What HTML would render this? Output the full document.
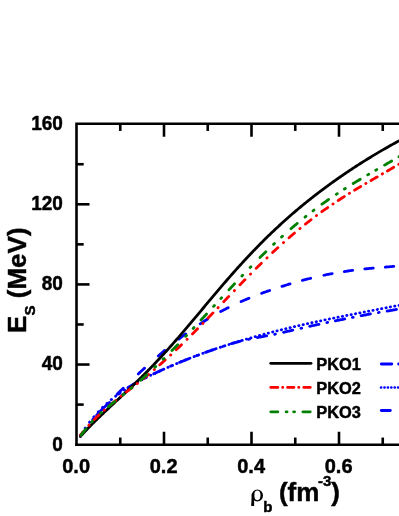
<!DOCTYPE html>
<html><head><meta charset="utf-8"><title>chart</title>
<style>html,body{margin:0;padding:0;background:#fff;width:399px;height:516px;overflow:hidden;font-family:"Liberation Sans",sans-serif}</style>
</head><body>
<svg width="411" height="528" viewBox="0 0 411 528" style="position:absolute;left:0;top:0;filter:blur(0.4px)">
<rect width="411" height="528" fill="#fff"/>
<g fill="none" stroke-width="2.8" stroke-linecap="round" stroke-linejoin="round">
<path d="M92.75,419.59 L93.26,418.97 M118.68,393.94 L119.32,393.47 M144.64,378.29 L145.36,377.93 M170.63,366.16 L171.37,365.85 M196.63,355.67 L197.37,355.39 M222.62,346.52 L223.38,346.27 M248.61,339.42 L249.39,339.25 M274.61,334.27 L275.39,334.10 M300.91,328.27 L301.69,328.09 M326.91,322.62 L327.69,322.45 M352.41,317.45 L353.19,317.30 M378.41,312.57 L379.19,312.44 M404.41,307.96 L405.19,307.82 M80.50,435.53 L81.09,434.79 L81.70,434.06 L82.32,433.33 L82.93,432.61 L83.54,431.88 M102.55,408.91 L103.23,408.25 L103.92,407.60 L104.61,406.94 L105.30,406.29 L106.00,405.65 L106.70,405.01 L107.41,404.38 L108.12,403.75 L108.82,403.10 L109.49,402.43 M127.94,387.70 L128.75,387.20 L129.56,386.70 L130.37,386.21 L131.18,385.72 L132.00,385.23 L132.82,384.75 L133.64,384.27 L134.46,383.80 L135.29,383.33 L136.12,382.86 M153.70,373.82 L154.56,373.41 L155.42,373.01 L156.28,372.61 L157.14,372.20 L158.00,371.80 L158.86,371.41 L159.73,371.01 L160.59,370.61 L161.45,370.22 L162.32,369.83 M179.60,362.38 L180.48,362.02 L181.36,361.66 L182.24,361.30 L183.12,360.95 L184.00,360.59 L184.88,360.24 L185.76,359.88 L186.65,359.53 L187.53,359.18 L188.41,358.83 M205.52,352.40 L206.42,352.08 L207.31,351.76 L208.21,351.44 L209.10,351.12 L210.00,350.81 L210.90,350.49 L211.79,350.18 L212.69,349.87 L213.59,349.56 L214.49,349.25 M231.44,343.68 L232.35,343.40 L233.26,343.12 L234.17,342.86 L235.08,342.60 L236.00,342.35 L236.92,342.10 L237.84,341.87 L238.76,341.64 L239.68,341.42 L240.61,341.20 M257.34,337.60 L258.27,337.42 L259.20,337.24 L260.14,337.05 L261.07,336.87 L262.00,336.69 L262.93,336.50 L263.87,336.33 L264.80,336.15 L265.73,335.98 L266.67,335.81 M283.52,332.30 L284.45,332.09 L285.37,331.88 L286.30,331.67 L287.22,331.45 L288.15,331.24 L289.08,331.02 L290.00,330.80 L290.92,330.59 L291.85,330.37 L292.77,330.15 M309.66,326.31 L310.59,326.11 L311.52,325.90 L312.44,325.70 L313.37,325.50 L314.30,325.30 L315.23,325.10 L316.16,324.89 L317.09,324.70 L318.01,324.50 L318.94,324.30 M335.39,320.87 L336.33,320.68 L337.26,320.49 L338.19,320.30 L339.12,320.11 L340.05,319.92 L340.98,319.73 L341.91,319.55 L342.84,319.36 L343.78,319.17 L344.71,318.98 M361.14,315.74 L362.07,315.56 L363.00,315.38 L363.94,315.19 L364.87,315.01 L365.80,314.83 L366.73,314.65 L367.67,314.47 L368.60,314.30 L369.53,314.12 L370.47,313.95 M387.12,311.10 L388.06,310.94 L388.99,310.78 L389.93,310.61 L390.86,310.45 L391.80,310.28 L392.73,310.11 L393.67,309.94 L394.60,309.77 L395.54,309.60 L396.47,309.43" stroke="#00f"/>
<path d="M80.78,435.07 L80.94,434.81 M85.14,428.32 L85.30,428.07 M89.49,422.29 L89.67,422.05 M93.84,416.87 L94.04,416.64 M98.20,411.97 L98.40,411.75 M102.55,407.51 L102.77,407.30 M106.91,403.43 L107.13,403.23 M111.26,399.68 L111.50,399.48 M115.62,396.21 L115.86,396.03 M119.98,393.01 L120.22,392.83 M124.33,390.02 L124.59,389.86 M128.69,387.24 L128.95,387.08 M133.05,384.62 L133.31,384.47 M137.41,382.14 L137.67,382.00 M141.77,379.79 L142.03,379.65 M146.13,377.54 L146.39,377.40 M150.49,375.37 L150.75,375.24 M154.84,373.28 L155.12,373.15 M159.20,371.25 L159.48,371.12 M163.56,369.27 L163.84,369.15 M167.92,367.34 L168.20,367.22 M172.28,365.45 L172.56,365.34 M176.64,363.61 L176.92,363.49 M181.00,361.81 L181.28,361.69 M185.36,360.04 L185.64,359.93 M189.72,358.32 L190.00,358.21 M194.08,356.64 L194.36,356.53 M198.44,354.99 L198.72,354.89 M202.80,353.38 L203.08,353.28 M207.16,351.81 L207.44,351.71 M211.52,350.27 L211.80,350.18 M215.88,348.77 L216.16,348.68 M220.24,347.30 L220.52,347.21 M224.60,345.87 L224.88,345.78 M228.96,344.47 L229.24,344.38 M233.32,343.09 L233.60,343.01 M237.68,341.75 L237.96,341.67 M242.04,340.44 L242.32,340.36 M246.40,339.16 L246.68,339.07 M250.76,337.90 L251.04,337.82 M255.12,336.67 L255.40,336.59 M259.48,335.47 L259.76,335.39 M263.84,334.29 L264.12,334.22 M268.19,333.14 L268.49,333.06 M272.55,332.01 L272.85,331.94 M276.91,330.90 L277.21,330.83 M281.27,329.82 L281.57,329.75 M285.63,328.75 L285.93,328.68 M289.99,327.71 L290.29,327.64 M294.35,326.68 L294.65,326.61 M298.71,325.67 L299.01,325.60 M303.07,324.68 L303.37,324.61 M307.43,323.70 L307.73,323.64 M311.79,322.74 L312.09,322.68 M316.15,321.80 L316.45,321.73 M320.51,320.86 L320.81,320.80 M324.87,319.94 L325.17,319.88 M329.23,319.03 L329.53,318.97 M333.59,318.13 L333.89,318.07 M337.95,317.24 L338.25,317.19 M342.31,316.36 L342.61,316.31 M346.67,315.49 L346.97,315.43 M351.03,314.63 L351.33,314.57 M355.39,313.77 L355.69,313.71 M359.75,312.91 L360.05,312.85 M364.11,312.06 L364.41,312.00 M368.47,311.21 L368.77,311.15 M372.83,310.36 L373.13,310.31 M377.19,309.52 L377.49,309.46 M381.55,308.67 L381.85,308.62 M385.91,307.83 L386.21,307.77 M390.27,306.98 L390.57,306.92 M394.63,306.13 L394.93,306.07 M398.99,305.27 L399.29,305.22 M403.35,304.41 L403.65,304.36" stroke="#00f"/>
<path d="M80.50,436.27 L80.94,435.54 L81.39,434.82 L81.84,434.10 L82.30,433.38 L82.76,432.67 M96.71,415.10 L97.34,414.40 L97.99,413.71 L98.63,413.02 L99.28,412.33 L99.92,411.64 L100.57,410.96 L101.23,410.27 L101.88,409.59 L102.53,408.91 M117.17,394.17 L117.84,393.51 L118.51,392.85 L119.19,392.18 L119.86,391.52 L120.54,390.86 L121.21,390.20 L121.89,389.54 L122.57,388.88 L123.24,388.23 M138.28,373.91 L138.97,373.26 L139.67,372.62 L140.36,371.98 L141.05,371.34 L141.75,370.70 L142.44,370.06 L143.14,369.42 L143.84,368.78 L144.53,368.15 M158.27,355.95 L158.99,355.33 L159.70,354.72 L160.42,354.10 L161.14,353.49 L161.86,352.88 L162.58,352.27 L163.30,351.66 L164.03,351.05 L164.75,350.45 M178.92,339.05 L179.67,338.48 L180.42,337.90 L181.17,337.33 L181.92,336.76 L182.68,336.19 L183.43,335.62 L184.19,335.06 L184.95,334.50 L185.71,333.94 M200.18,323.85 L200.97,323.33 L201.76,322.82 L202.56,322.31 L203.35,321.80 L204.15,321.29 L204.95,320.78 L205.75,320.28 L206.55,319.78 L207.35,319.29 M220.65,311.59 L221.48,311.14 L222.31,310.70 L223.15,310.25 L223.98,309.81 L224.82,309.38 L225.66,308.94 L226.50,308.51 L227.34,308.08 L228.18,307.66 M241.10,301.58 L241.96,301.20 L242.83,300.82 L243.70,300.45 L244.57,300.08 L245.43,299.71 L246.31,299.34 L247.18,298.98 L248.05,298.61 L248.92,298.26 M261.60,293.34 L262.49,293.01 L263.38,292.69 L264.27,292.37 L265.16,292.05 L266.04,291.73 L266.94,291.41 L267.83,291.10 L268.72,290.79 L269.61,290.48 M281.94,286.40 L282.84,286.11 L283.74,285.83 L284.65,285.55 L285.55,285.27 L286.45,285.00 L287.35,284.72 L288.26,284.45 L289.16,284.17 L290.07,283.90 M302.39,280.41 L303.30,280.16 L304.22,279.92 L305.13,279.68 L306.04,279.44 L306.96,279.20 L307.87,278.97 L308.79,278.74 L309.70,278.51 L310.62,278.28 M323.84,275.25 L324.76,275.05 L325.69,274.86 L326.61,274.67 L327.54,274.49 L328.46,274.30 L329.39,274.12 L330.32,273.94 L331.25,273.76 L332.17,273.59 M344.30,271.54 L345.23,271.40 L346.16,271.26 L347.10,271.12 L348.03,270.99 L348.97,270.86 L349.90,270.73 L350.84,270.60 L351.77,270.48 L352.71,270.35 M364.77,268.94 L365.71,268.84 L366.65,268.75 L367.59,268.65 L368.53,268.56 L369.47,268.47 L370.41,268.38 L371.35,268.29 L372.29,268.20 L373.23,268.11 M385.26,267.08 L386.21,267.01 L387.15,266.93 L388.09,266.85 L389.03,266.78 L389.97,266.70 L390.91,266.62 L391.85,266.55 L392.79,266.47 L393.74,266.39 M405.77,265.34 L406.71,265.25 L407.65,265.15 L408.59,265.06 L409.53,264.96 L410.47,264.86 L411.41,264.76 L412.35,264.66 L413.29,264.55 L414.22,264.45" stroke="#00f"/>
<path d="M80.50,436.36 L81.35,435.41 L82.19,434.48 L83.04,433.56 L83.89,432.64 L84.73,431.73 L85.58,430.82 L86.43,429.93 L87.27,429.04 L88.12,428.16 L88.97,427.28 L89.81,426.41 L90.66,425.55 L91.51,424.69 L92.35,423.84 L93.20,422.99 L94.05,422.15 L94.90,421.31 L95.74,420.48 L96.59,419.65 L97.44,418.82 L98.28,418.00 L99.13,417.18 L99.98,416.37 L100.82,415.56 L101.67,414.75 L102.52,413.94 L103.36,413.14 L104.21,412.34 L105.06,411.54 L105.90,410.75 L106.75,409.95 L107.60,409.16 L108.44,408.37 L109.29,407.58 L110.14,406.79 L110.98,406.00 L111.83,405.21 L112.68,404.43 L113.52,403.64 L114.37,402.86 L115.22,402.07 L116.06,401.29 L116.91,400.50 L117.76,399.72 L118.61,398.93 L119.45,398.15 L120.30,397.36 L121.15,396.57 L121.99,395.78 L122.84,394.99 L123.69,394.20 L124.53,393.41 L125.38,392.62 L126.23,391.82 L127.07,391.03 L127.92,390.23 L128.77,389.43 L129.61,388.63 L130.46,387.82 L131.31,387.02 L132.15,386.21 L133.00,385.40 L133.85,384.59 L134.69,383.77 L135.54,382.95 L136.39,382.13 L137.23,381.31 L138.08,380.49 L138.93,379.66 L139.77,378.83 L140.62,377.99 L141.47,377.16 L142.31,376.32 L143.16,375.47 L144.01,374.63 L144.86,373.78 L145.70,372.93 L146.55,372.07 L147.40,371.21 L148.24,370.35 L149.09,369.48 L149.94,368.61 L150.78,367.74 L151.63,366.87 L152.48,365.99 L153.32,365.11 L154.17,364.22 L155.02,363.33 L155.86,362.44 L156.71,361.54 L157.56,360.64 L158.40,359.74 L159.25,358.83 L160.10,357.92 L160.94,357.01 L161.79,356.09 L162.64,355.17 L163.48,354.25 L164.33,353.32 L165.18,352.39 L166.02,351.46 L166.87,350.52 L167.72,349.58 L168.57,348.63 L169.41,347.69 L170.26,346.74 L171.11,345.79 L171.95,344.83 L172.80,343.87 L173.65,342.91 L174.49,341.94 L175.34,340.98 L176.19,340.01 L177.03,339.04 L177.88,338.06 L178.73,337.08 L179.57,336.10 L180.42,335.12 L181.27,334.13 L182.11,333.15 L182.96,332.16 L183.81,331.17 L184.65,330.17 L185.50,329.18 L186.35,328.18 L187.19,327.18 L188.04,326.18 L188.89,325.18 L189.73,324.18 L190.58,323.18 L191.43,322.17 L192.27,321.16 L193.12,320.15 L193.97,319.14 L194.82,318.13 L195.66,317.12 L196.51,316.11 L197.36,315.10 L198.20,314.09 L199.05,313.07 L199.90,312.06 L200.74,311.05 L201.59,310.03 L202.44,309.02 L203.28,308.00 L204.13,306.99 L204.98,305.97 L205.82,304.96 L206.67,303.95 L207.52,302.94 L208.36,301.92 L209.21,300.91 L210.06,299.90 L210.90,298.89 L211.75,297.89 L212.60,296.88 L213.44,295.87 L214.29,294.87 L215.14,293.86 L215.98,292.86 L216.83,291.86 L217.68,290.86 L218.53,289.87 L219.37,288.87 L220.22,287.88 L221.07,286.89 L221.91,285.90 L222.76,284.91 L223.61,283.93 L224.45,282.94 L225.30,281.96 L226.15,280.98 L226.99,280.01 L227.84,279.03 L228.69,278.06 L229.53,277.10 L230.38,276.13 L231.23,275.17 L232.07,274.21 L232.92,273.25 L233.77,272.29 L234.61,271.34 L235.46,270.39 L236.31,269.44 L237.15,268.50 L238.00,267.56 L238.85,266.62 L239.69,265.69 L240.54,264.76 L241.39,263.83 L242.23,262.90 L243.08,261.98 L243.93,261.06 L244.78,260.14 L245.62,259.23 L246.47,258.32 L247.32,257.41 L248.16,256.51 L249.01,255.61 L249.86,254.71 L250.70,253.82 L251.55,252.93 L252.40,252.04 L253.24,251.15 L254.09,250.27 L254.94,249.40 L255.78,248.52 L256.63,247.65 L257.48,246.78 L258.32,245.92 L259.17,245.06 L260.02,244.20 L260.86,243.34 L261.71,242.49 L262.56,241.64 L263.40,240.80 L264.25,239.96 L265.10,239.12 L265.94,238.28 L266.79,237.45 L267.64,236.62 L268.48,235.80 L269.33,234.98 L270.18,234.16 L271.03,233.35 L271.87,232.53 L272.72,231.73 L273.57,230.92 L274.41,230.12 L275.26,229.32 L276.11,228.53 L276.95,227.74 L277.80,226.95 L278.65,226.16 L279.49,225.38 L280.34,224.60 L281.19,223.83 L282.03,223.06 L282.88,222.29 L283.73,221.52 L284.57,220.76 L285.42,220.00 L286.27,219.25 L287.11,218.49 L287.96,217.74 L288.81,217.00 L289.65,216.25 L290.50,215.51 L291.35,214.78 L292.19,214.04 L293.04,213.31 L293.89,212.59 L294.74,211.86 L295.58,211.14 L296.43,210.42 L297.28,209.71 L298.12,208.99 L298.97,208.29 L299.82,207.58 L300.66,206.88 L301.51,206.18 L302.36,205.48 L303.20,204.78 L304.05,204.09 L304.90,203.40 L305.74,202.72 L306.59,202.03 L307.44,201.35 L308.28,200.67 L309.13,200.00 L309.98,199.32 L310.82,198.65 L311.67,197.99 L312.52,197.32 L313.36,196.66 L314.21,196.00 L315.06,195.34 L315.90,194.69 L316.75,194.04 L317.60,193.39 L318.44,192.74 L319.29,192.10 L320.14,191.46 L320.99,190.82 L321.83,190.18 L322.68,189.54 L323.53,188.91 L324.37,188.28 L325.22,187.66 L326.07,187.03 L326.91,186.41 L327.76,185.79 L328.61,185.17 L329.45,184.55 L330.30,183.94 L331.15,183.33 L331.99,182.72 L332.84,182.11 L333.69,181.51 L334.53,180.91 L335.38,180.31 L336.23,179.71 L337.07,179.11 L337.92,178.52 L338.77,177.93 L339.61,177.34 L340.46,176.75 L341.31,176.17 L342.15,175.58 L343.00,175.00 L343.85,174.42 L344.70,173.85 L345.54,173.27 L346.39,172.70 L347.24,172.13 L348.08,171.56 L348.93,170.99 L349.78,170.43 L350.62,169.86 L351.47,169.30 L352.32,168.74 L353.16,168.19 L354.01,167.63 L354.86,167.08 L355.70,166.53 L356.55,165.98 L357.40,165.43 L358.24,164.89 L359.09,164.35 L359.94,163.80 L360.78,163.26 L361.63,162.73 L362.48,162.19 L363.32,161.66 L364.17,161.13 L365.02,160.60 L365.86,160.07 L366.71,159.54 L367.56,159.02 L368.40,158.50 L369.25,157.97 L370.10,157.46 L370.95,156.94 L371.79,156.42 L372.64,155.91 L373.49,155.40 L374.33,154.89 L375.18,154.38 L376.03,153.88 L376.87,153.37 L377.72,152.87 L378.57,152.37 L379.41,151.87 L380.26,151.37 L381.11,150.88 L381.95,150.39 L382.80,149.89 L383.65,149.40 L384.49,148.92 L385.34,148.43 L386.19,147.95 L387.03,147.46 L387.88,146.98 L388.73,146.51 L389.57,146.03 L390.42,145.55 L391.27,145.08 L392.11,144.61 L392.96,144.14 L393.81,143.67 L394.66,143.21 L395.50,142.74 L396.35,142.28 L397.20,141.82 L398.04,141.36 L398.89,140.91 L399.74,140.45 L400.58,140.00 L401.43,139.55 L402.28,139.10 L403.12,138.65 L403.97,138.21 L404.82,137.76 L405.66,137.32 L406.51,136.88 L407.36,136.44 L408.20,136.01 L409.05,135.57 L409.90,135.14 L410.74,134.71 L411.59,134.29 L412.44,133.86 L413.28,133.44 L414.13,133.01 L414.98,132.59 L415.82,132.18 L416.67,131.76 L417.52,131.35 L418.36,130.93" stroke="#000"/>
<path d="M88.90,425.23 L89.10,425.01 M104.19,410.23 L104.41,410.03 M121.08,396.20 L121.32,396.01 M137.18,383.54 L137.42,383.36 M154.19,369.64 L154.41,369.44 M170.59,355.08 L170.81,354.87 M186.99,339.37 L187.21,339.16 M202.80,323.43 L203.00,323.22 M217.97,307.70 L218.17,307.49 M234.30,290.66 L234.50,290.45 M250.39,274.15 L250.61,273.94 M266.89,257.92 L267.11,257.71 M283.39,242.67 L283.61,242.47 M299.88,228.58 L300.12,228.39 M316.38,215.71 L316.62,215.53 M332.88,204.03 L333.12,203.86 M349.32,193.40 L349.58,193.24 M365.77,183.52 L366.03,183.37 M382.27,173.97 L382.53,173.82 M398.67,164.35 L398.93,164.20 M80.50,435.11 L81.03,434.44 L81.56,433.78 L82.09,433.12 L82.63,432.46 L83.17,431.81 M94.09,419.77 L94.73,419.13 L95.37,418.50 L96.01,417.87 L96.65,417.24 L97.30,416.61 L97.94,415.99 L98.60,415.36 L99.25,414.75 M109.98,405.22 L110.67,404.65 L111.36,404.07 L112.06,403.49 L112.75,402.92 L113.44,402.35 L114.14,401.78 L114.84,401.21 L115.54,400.64 M126.42,392.00 L127.12,391.45 L127.83,390.89 L128.54,390.34 L129.25,389.78 L129.96,389.23 L130.67,388.67 L131.38,388.12 L132.08,387.56 M143.01,378.89 L143.70,378.32 L144.40,377.76 L145.10,377.19 L145.80,376.62 L146.50,376.05 L147.19,375.48 L147.89,374.91 L148.58,374.33 M159.80,364.79 L160.48,364.20 L161.15,363.60 L161.83,363.01 L162.50,362.41 L163.17,361.81 L163.84,361.21 L164.51,360.61 L165.18,360.01 M176.30,349.73 L176.95,349.11 L177.60,348.49 L178.25,347.87 L178.90,347.24 L179.55,346.62 L180.20,346.00 L180.85,345.37 L181.49,344.75 M192.46,333.93 L193.10,333.29 L193.73,332.65 L194.37,332.01 L195.00,331.37 L195.63,330.73 L196.27,330.09 L196.90,329.45 L197.53,328.81 M207.99,318.08 L208.61,317.44 L209.24,316.79 L209.86,316.14 L210.49,315.49 L211.11,314.85 L211.73,314.20 L212.36,313.55 L212.98,312.90 M223.75,301.66 L224.37,301.01 L224.99,300.36 L225.61,299.71 L226.24,299.06 L226.86,298.41 L227.48,297.76 L228.10,297.11 L228.73,296.46 M239.94,284.82 L240.57,284.17 L241.19,283.53 L241.82,282.88 L242.45,282.24 L243.08,281.59 L243.71,280.95 L244.34,280.31 L244.97,279.66 M256.19,268.35 L256.83,267.72 L257.47,267.09 L258.11,266.45 L258.75,265.82 L259.39,265.19 L260.03,264.56 L260.68,263.93 L261.32,263.30 M272.61,252.50 L273.27,251.89 L273.93,251.28 L274.59,250.66 L275.25,250.05 L275.91,249.44 L276.57,248.83 L277.24,248.22 L277.90,247.62 M289.02,237.72 L289.70,237.13 L290.38,236.54 L291.07,235.96 L291.75,235.37 L292.43,234.79 L293.12,234.21 L293.81,233.62 L294.50,233.04 M305.42,224.12 L306.13,223.57 L306.83,223.01 L307.54,222.45 L308.25,221.90 L308.96,221.35 L309.67,220.80 L310.38,220.25 L311.10,219.70 M321.82,211.74 L322.55,211.21 L323.28,210.69 L324.02,210.17 L324.75,209.65 L325.49,209.13 L326.22,208.61 L326.96,208.09 L327.70,207.58 M338.21,200.48 L338.96,199.99 L339.71,199.50 L340.47,199.01 L341.23,198.52 L341.98,198.03 L342.74,197.55 L343.50,197.06 L344.26,196.58 M354.59,190.17 L355.36,189.70 L356.13,189.24 L356.90,188.77 L357.67,188.31 L358.45,187.85 L359.22,187.39 L359.99,186.93 L360.77,186.47 M371.03,180.45 L371.81,180.00 L372.59,179.55 L373.37,179.10 L374.15,178.65 L374.93,178.20 L375.71,177.75 L376.49,177.30 L377.27,176.85 M387.49,170.95 L388.27,170.50 L389.05,170.04 L389.82,169.59 L390.60,169.14 L391.38,168.68 L392.15,168.23 L392.93,167.77 L393.70,167.31" stroke="#f00"/>
<path d="M81.09,435.17 L81.62,434.43 L82.15,433.69 L82.69,432.95 L83.23,432.22 L83.77,431.49 L84.33,430.76 L84.88,430.04 L85.45,429.33 L86.02,428.62 M108.32,406.63 L109.03,406.05 L109.73,405.47 L110.44,404.90 L111.15,404.32 L111.85,403.75 L112.57,403.18 L113.28,402.61 L113.99,402.04 L114.70,401.48 M140.63,380.23 L141.31,379.63 L142.00,379.03 L142.68,378.43 L143.36,377.82 L144.04,377.22 L144.72,376.61 L145.40,376.00 L146.07,375.39 L146.75,374.78 M171.92,350.56 L172.56,349.92 L173.20,349.27 L173.84,348.62 L174.48,347.97 L175.12,347.32 L175.76,346.67 L176.39,346.01 L177.03,345.36 L177.66,344.71 M200.96,320.07 L201.58,319.41 L202.20,318.74 L202.82,318.07 L203.44,317.40 L204.06,316.73 L204.68,316.06 L205.30,315.39 L205.91,314.72 L206.53,314.05 M228.95,289.77 L229.58,289.10 L230.20,288.43 L230.82,287.77 L231.44,287.10 L232.06,286.44 L232.68,285.77 L233.31,285.10 L233.93,284.44 L234.55,283.77 M259.98,257.50 L260.63,256.86 L261.28,256.22 L261.93,255.58 L262.58,254.94 L263.23,254.30 L263.88,253.67 L264.53,253.03 L265.18,252.39 L265.83,251.76 M290.98,228.69 L291.67,228.10 L292.37,227.50 L293.06,226.91 L293.75,226.32 L294.45,225.73 L295.14,225.15 L295.84,224.56 L296.54,223.98 L297.24,223.39 M321.96,204.21 L322.70,203.68 L323.44,203.15 L324.19,202.62 L324.93,202.09 L325.67,201.56 L326.42,201.04 L327.16,200.52 L327.91,199.99 L328.66,199.47 M353.20,183.53 L353.97,183.05 L354.75,182.58 L355.53,182.10 L356.31,181.63 L357.09,181.16 L357.87,180.69 L358.65,180.22 L359.43,179.76 L360.22,179.29 M384.55,165.14 L385.34,164.68 L386.13,164.23 L386.92,163.77 L387.71,163.31 L388.49,162.86 L389.28,162.40 L390.07,161.94 L390.86,161.48 L391.64,161.02 M91.59,422.15 L92.00,421.71 L92.41,421.27 M100.55,413.31 L101.00,412.91 L101.45,412.51 M123.03,394.87 L123.50,394.50 L123.97,394.12 M131.04,388.39 L131.50,388.00 L131.96,387.62 M154.86,367.27 L155.30,366.86 L155.74,366.44 M163.17,359.28 L163.60,358.86 L164.03,358.44 M185.69,336.36 L186.10,335.92 L186.51,335.49 M193.19,328.41 L193.60,327.98 L194.01,327.54 M213.59,306.39 L214.00,305.95 L214.41,305.51 M220.79,298.58 L221.20,298.14 L221.61,297.70 M241.89,276.01 L242.30,275.58 L242.71,275.15 M250.08,267.51 L250.50,267.08 L250.92,266.65 M273.56,244.38 L274.00,243.97 L274.44,243.56 M281.55,237.01 L282.00,236.61 L282.45,236.21 M305.03,217.05 L305.50,216.67 L305.97,216.30 M313.02,210.83 L313.50,210.47 L313.98,210.10 M336.30,194.29 L336.80,193.95 L337.30,193.62 M344.39,189.02 L344.90,188.70 L345.41,188.38 M367.68,174.89 L368.20,174.58 L368.72,174.28 M375.78,170.19 L376.30,169.89 L376.82,169.59 M398.98,156.70 L399.50,156.39 L400.01,156.08" stroke="#008000"/>
</g>
<g stroke="#000" stroke-width="2.6" fill="none" stroke-linecap="butt">
<path d="M76.5,446.05 V123.75 H411"/>
<path d="M75.2,444.75 H411"/>
<path d="M76.5,404.59 h7.2"/>
<path d="M76.5,364.53 h13"/>
<path d="M76.5,324.46999999999997 h7.2"/>
<path d="M76.5,284.40999999999997 h13"/>
<path d="M76.5,244.34999999999997 h7.2"/>
<path d="M76.5,204.28999999999996 h13"/>
<path d="M76.5,164.22999999999996 h7.2"/>
<path d="M120.25,444.75 v-7.2"/>
<path d="M120.25,123.75 v7.2"/>
<path d="M164.0,444.75 v-13"/>
<path d="M164.0,123.75 v13"/>
<path d="M207.75000000000003,444.75 v-7.2"/>
<path d="M207.75000000000003,123.75 v7.2"/>
<path d="M251.5,444.75 v-13"/>
<path d="M251.5,123.75 v13"/>
<path d="M295.25,444.75 v-7.2"/>
<path d="M295.25,123.75 v7.2"/>
<path d="M339.00000000000006,444.75 v-13"/>
<path d="M339.00000000000006,123.75 v13"/>
<path d="M382.75000000000006,444.75 v-7.2"/>
<path d="M382.75000000000006,123.75 v7.2"/>
</g>
<g fill="none" stroke-width="2.8" stroke-linecap="round">
<path d="M270.75,363.3 H311" stroke="#000"/>
<path d="M270.75,387.4 H277.85 M282.6,387.4 h0.2 M287.55,387.4 H293.95 M298.7,387.4 h0.2 M303.75,387.4 H310.25" stroke="#f00"/>
<path d="M270.75,411.8 H277.85 M286.1,411.8 h1.0 M293.6,411.8 h1.0 M302.85,411.8 H310.25" stroke="#008000"/>
<path d="M381.3,364 H391.8 M398.6,364 h0.8" stroke="#00f"/>
<path d="M381,387.6 h0.2 m3.2,0 h0.2 m3.2,0 h0.2 m3.2,0 h0.2 m3.2,0 h0.2 m3.2,0 h0.2 m3.2,0 h0.2" stroke="#00f" stroke-width="2.5"/>
<path d="M381.3,410.5 H390.3" stroke="#00f"/>
</g>
<g style="filter:grayscale(1)">
<text font-family="Liberation Sans, sans-serif" font-weight="bold" fill="#000" stroke="#000" stroke-width="1.8" stroke-linejoin="round" font-size="76px" text-anchor="end" transform="translate(62.90,450.55) scale(0.25,0.27)">0</text>
<text font-family="Liberation Sans, sans-serif" font-weight="bold" fill="#000" stroke="#000" stroke-width="1.8" stroke-linejoin="round" font-size="76px" text-anchor="end" transform="translate(62.90,370.43) scale(0.25,0.27)">40</text>
<text font-family="Liberation Sans, sans-serif" font-weight="bold" fill="#000" stroke="#000" stroke-width="1.8" stroke-linejoin="round" font-size="76px" text-anchor="end" transform="translate(62.90,290.31) scale(0.25,0.27)">80</text>
<text font-family="Liberation Sans, sans-serif" font-weight="bold" fill="#000" stroke="#000" stroke-width="1.8" stroke-linejoin="round" font-size="76px" text-anchor="end" transform="translate(62.90,210.19) scale(0.25,0.27)">120</text>
<text font-family="Liberation Sans, sans-serif" font-weight="bold" fill="#000" stroke="#000" stroke-width="1.8" stroke-linejoin="round" font-size="76px" text-anchor="end" transform="translate(62.90,130.07) scale(0.25,0.27)">160</text>
<text font-family="Liberation Sans, sans-serif" font-weight="bold" fill="#000" stroke="#000" stroke-width="1.8" stroke-linejoin="round" font-size="80px" text-anchor="middle" transform="translate(76.10,473.30) scale(0.25,0.2625)">0.0</text>
<text font-family="Liberation Sans, sans-serif" font-weight="bold" fill="#000" stroke="#000" stroke-width="1.8" stroke-linejoin="round" font-size="80px" text-anchor="middle" transform="translate(163.60,473.30) scale(0.25,0.2625)">0.2</text>
<text font-family="Liberation Sans, sans-serif" font-weight="bold" fill="#000" stroke="#000" stroke-width="1.8" stroke-linejoin="round" font-size="80px" text-anchor="middle" transform="translate(251.10,473.30) scale(0.25,0.2625)">0.4</text>
<text font-family="Liberation Sans, sans-serif" font-weight="bold" fill="#000" stroke="#000" stroke-width="1.8" stroke-linejoin="round" font-size="80px" text-anchor="middle" transform="translate(338.60,473.30) scale(0.25,0.2625)">0.6</text>
<text font-family="Liberation Sans, sans-serif" font-weight="bold" fill="#000" stroke="#000" stroke-width="1.8" stroke-linejoin="round" font-size="65.6px" text-anchor="start" transform="translate(316.20,369.80) scale(0.25,0.26)">PKO1</text>
<text font-family="Liberation Sans, sans-serif" font-weight="bold" fill="#000" stroke="#000" stroke-width="1.8" stroke-linejoin="round" font-size="65.6px" text-anchor="start" transform="translate(316.20,394.20) scale(0.25,0.26)">PKO2</text>
<text font-family="Liberation Sans, sans-serif" font-weight="bold" fill="#000" stroke="#000" stroke-width="1.8" stroke-linejoin="round" font-size="65.6px" text-anchor="start" transform="translate(316.20,417.80) scale(0.25,0.26)">PKO3</text>
<text font-family="Liberation Sans, sans-serif" font-weight="bold" fill="#000" stroke="#000" stroke-width="1.8" stroke-linejoin="round" font-size="104px" text-anchor="start" transform="translate(26.30,333.10) rotate(-90) scale(0.25,0.25)">E<tspan font-size="60px" dy="36" dx="1.2">S</tspan><tspan dy="-36"> (MeV)</tspan></text>
<path fill="#000" fill-rule="evenodd" d="M251.7,495.45 a5.65,6.05 0 1,0 11.3,0 a5.65,6.05 0 1,0 -11.3,0 Z M254.2,495.35 a3.15,4.85 0 1,1 6.3,0 a3.15,4.85 0 1,1 -6.3,0 Z"/>
<path fill="#000" d="M251.75,493.5 L254.25,493.5 L254.1,505.9 L251.2,505.9 Z"/>
<text font-family="Liberation Sans, sans-serif" font-weight="bold" fill="#000" stroke="#000" stroke-width="1.8" stroke-linejoin="round" font-size="60px" text-anchor="start" transform="translate(263.30,511.70) scale(0.25,0.25)">b</text>
<text font-family="Liberation Sans, sans-serif" font-weight="bold" fill="#000" stroke="#000" stroke-width="1.8" stroke-linejoin="round" font-size="104px" text-anchor="start" transform="translate(278.90,501.00) scale(0.25,0.25)">(fm</text>
<text font-family="Liberation Sans, sans-serif" font-weight="bold" fill="#000" stroke="#000" stroke-width="1.8" stroke-linejoin="round" font-size="60px" text-anchor="start" transform="translate(318.00,486.40) scale(0.25,0.25)">-3</text>
<text font-family="Liberation Sans, sans-serif" font-weight="bold" fill="#000" stroke="#000" stroke-width="1.8" stroke-linejoin="round" font-size="104px" text-anchor="start" transform="translate(331.20,501.00) scale(0.25,0.25)">)</text>
</g>
</svg>
</body></html>
